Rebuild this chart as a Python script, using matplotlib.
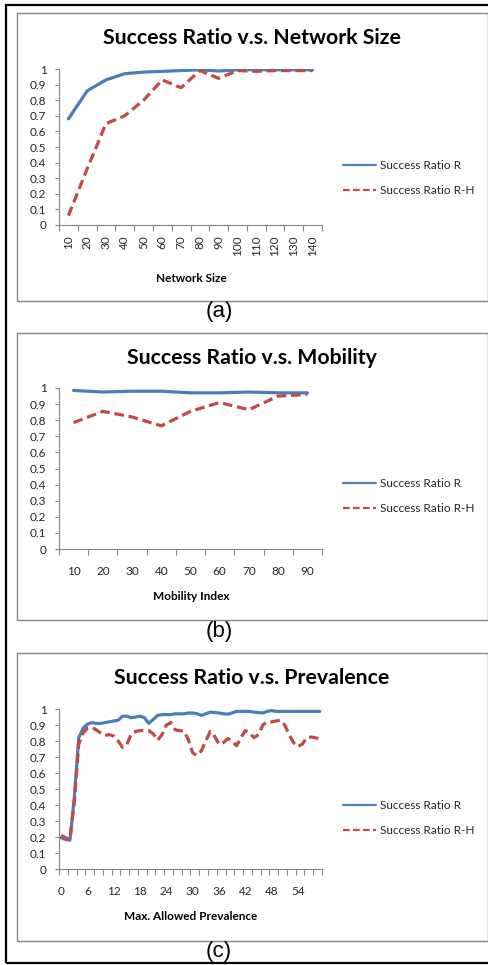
import matplotlib
matplotlib.use("Agg")
import matplotlib.pyplot as plt
from matplotlib.patches import Rectangle

W, H = 489, 965

# (a) success ratio vs network size
size_cats = [10, 20, 30, 40, 50, 60, 70, 80, 90, 100, 110, 120, 130, 140]
size_r = [0.68, 0.86, 0.93, 0.97, 0.98, 0.985, 0.99, 0.995, 0.987, 0.995,
          0.995, 0.995, 0.995, 0.995]
size_rh = [0.06, 0.36, 0.65, 0.70, 0.80, 0.93, 0.88, 0.99, 0.94, 0.99,
           0.985, 0.99, 0.99, 0.99]

# (b) success ratio vs mobility
mob_cats = [10, 20, 30, 40, 50, 60, 70, 80, 90]
mob_r = [0.985, 0.975, 0.98, 0.98, 0.97, 0.97, 0.975, 0.97, 0.97]
mob_rh = [0.785, 0.855, 0.82, 0.765, 0.855, 0.91, 0.865, 0.95, 0.96]

# (c) success ratio vs max. allowed prevalence
prev_cats = list(range(60))
prev_r = [0.195, 0.185, 0.18, 0.45, 0.82, 0.88, 0.905, 0.915, 0.91, 0.91,
          0.915, 0.92, 0.925, 0.93, 0.955, 0.955, 0.945, 0.95, 0.955, 0.945,
          0.91, 0.935, 0.96, 0.965, 0.965, 0.965, 0.97, 0.97, 0.97, 0.975,
          0.975, 0.97, 0.96, 0.97, 0.98, 0.978, 0.975, 0.97, 0.968, 0.975,
          0.985, 0.985, 0.985, 0.985, 0.98, 0.978, 0.975, 0.985, 0.99, 0.985,
          0.985, 0.985, 0.985, 0.985, 0.985, 0.985, 0.985, 0.985, 0.985, 0.985]
prev_rh = [0.21, 0.195, 0.185, 0.42, 0.78, 0.85, 0.88, 0.885, 0.87, 0.85,
           0.835, 0.84, 0.83, 0.80, 0.76, 0.78, 0.845, 0.86, 0.865, 0.865,
           0.865, 0.845, 0.805, 0.84, 0.90, 0.915, 0.87, 0.865, 0.86, 0.81,
           0.725, 0.71, 0.74, 0.80, 0.86, 0.83, 0.78, 0.79, 0.815, 0.80,
           0.77, 0.82, 0.865, 0.85, 0.82, 0.84, 0.90, 0.92, 0.92, 0.925,
           0.93, 0.90, 0.84, 0.79, 0.765, 0.78, 0.82, 0.825, 0.82, 0.815]

titles = {
    "(a)": "Success Ratio v.s. Network Size",
    "(b)": "Success Ratio v.s. Mobility",
    "(c)": "Success Ratio v.s. Prevalence",
}

BLUE = "#4a7ebb"
RED = "#be4b48"
GRAY = "#868686"
TXT = "#262626"
FS = 8.5

plt.rcParams["font.family"] = ["Lato", "DejaVu Sans"]

fig = plt.figure(figsize=(W / 100, H / 100), dpi=100)


def fx(x):
    return x / W


def fy(y):
    return 1 - y / H


def panel(rect, box, title_y, xlabel, xlabel_y, cats, r, rh,
          label_every, tick_every, rot, xpad, legend_y, caption, caption_y):
    # grey frame of the excel chart
    fig.add_artist(Rectangle((fx(box[0]), fy(box[3])), fx(box[2] - box[0]),
                             (box[3] - box[1]) / H, transform=fig.transFigure,
                             fill=False, edgecolor=GRAY, lw=1.0))

    x0, y0, x1, y1 = rect
    ax = fig.add_axes([fx(x0), fy(y1), fx(x1 - x0), (y1 - y0) / H])
    n = len(cats)
    xs = list(range(n))
    ax.plot(xs, r, color=BLUE, lw=2.3, solid_joinstyle="round",
            solid_capstyle="round", label="Success Ratio R")
    ax.plot(xs, rh, color=RED, lw=2.3, ls=(0, (3, 1.5)),
            dash_joinstyle="round", label="Success Ratio R-H")

    ax.set_xlim(-0.5, n - 0.5)
    ax.set_ylim(0, 1)
    ax.set_yticks([i / 10 for i in range(11)])
    ax.set_yticklabels(["0"] + ["0.%d" % i for i in range(1, 10)] + ["1"])
    ax.set_xticks(xs[::label_every])
    ax.set_xticklabels([str(c) for c in cats[::label_every]], rotation=rot)
    ax.set_xticks([i - 0.5 for i in range(0, n + 1, tick_every)], minor=True)
    ax.tick_params(axis="x", which="major", length=0, pad=xpad,
                   labelsize=FS, labelcolor=TXT)
    ax.tick_params(axis="x", which="minor", length=4, width=0.8,
                   color=GRAY, direction="out")
    ax.tick_params(axis="y", length=3, width=0.8, color=GRAY, pad=6,
                   labelsize=FS, labelcolor=TXT)
    for s in ("top", "right"):
        ax.spines[s].set_visible(False)
    for s in ("left", "bottom"):
        ax.spines[s].set_color(GRAY)
        ax.spines[s].set_linewidth(0.8)

    fig.text(fx(252), fy(title_y), titles[caption], ha="center",
             va="center", fontsize=15.3, fontweight="bold")
    fig.text(fx(191), fy(xlabel_y), xlabel, ha="center", va="center",
             fontsize=FS, fontweight="bold")
    leg = ax.legend(loc="upper left", bbox_to_anchor=(fx(343), fy(legend_y)),
                    bbox_transform=fig.transFigure, frameon=False,
                    fontsize=FS, handlelength=2.8, handletextpad=0.35,
                    labelspacing=1.2, borderpad=0, borderaxespad=0)
    for line in leg.get_lines():
        line.set_linewidth(1.6)
    for t in leg.get_texts():
        t.set_color(TXT)
    fig.text(fx(219), fy(caption_y), caption, ha="center", va="center",
             fontsize=16, family=["Liberation Sans", "DejaVu Sans"])


panel((59, 69, 322, 225), (17, 13, 488, 301), 38, "Network Size", 278,
      size_cats, size_r, size_rh, 1, 1, 90, 7.5, 160, "(a)", 311)
panel((59, 388, 322, 549), (17, 333, 488, 620), 358, "Mobility Index", 596,
      mob_cats, mob_r, mob_rh, 1, 1, 0, 12, 478, "(b)", 631)
panel((59, 709, 322, 869), (17, 653, 488, 941), 678,
      "Max. Allowed Prevalence", 917,
      prev_cats, prev_r, prev_rh, 6, 2, 0, 12.5, 800, "(c)", 952)

# outer black frame
fig.add_artist(Rectangle((fx(6), fy(963)), fx(486), 958 / H,
                         transform=fig.transFigure, fill=False,
                         edgecolor="black", lw=1.6))

fig.savefig("out.png", dpi=100)
